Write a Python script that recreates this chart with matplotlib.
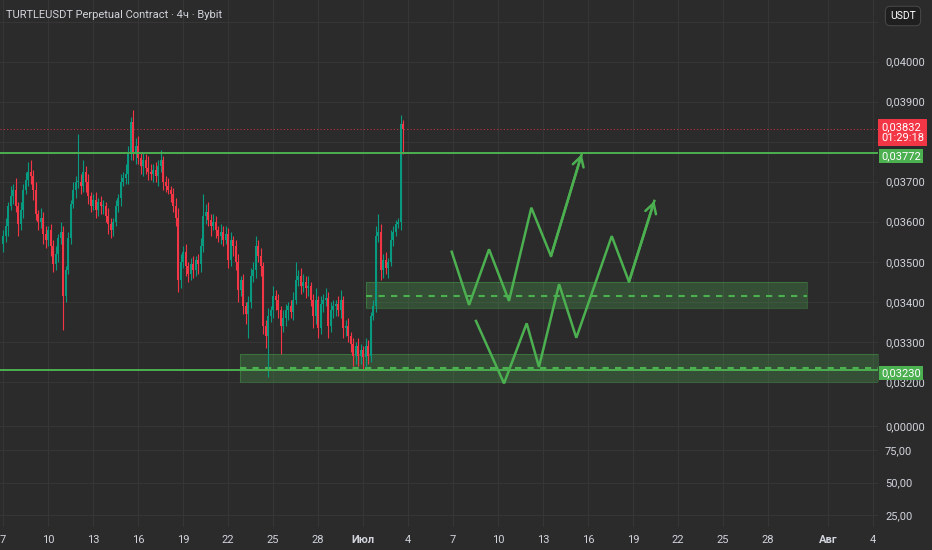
import matplotlib.pyplot as plt
import matplotlib.transforms as mtransforms
import numpy as np

plt.rcParams['font.family'] = ['Roboto', 'DejaVu Sans']

title = "TURTLEUSDT Perpetual Contract · 4ч · Bybit"
currency = "USDT"

# 4h candles, time in days from 1 July 00:00
start_day = -24
step = 1 / 6
first_open = 0.03545
closes = [
    0.03565, 0.03590, 0.03640, 0.03665, 0.03680, 0.03640, 0.03595, 0.03630, 0.03680, 0.03705,
    0.03725, 0.03715, 0.03680, 0.03620, 0.03600, 0.03610, 0.03570, 0.03555, 0.03580, 0.03540,
    0.03495, 0.03520, 0.03560, 0.03575, 0.03415, 0.03480, 0.03560, 0.03645, 0.03680, 0.03700,
    0.03700, 0.03690, 0.03725, 0.03700, 0.03665, 0.03640, 0.03655, 0.03630, 0.03650, 0.03640,
    0.03640, 0.03615, 0.03595, 0.03580, 0.03600, 0.03640, 0.03660, 0.03700, 0.03710, 0.03720,
    0.03770, 0.03850, 0.03775, 0.03790, 0.03760, 0.03740, 0.03755, 0.03735, 0.03725, 0.03720,
    0.03730, 0.03715, 0.03740, 0.03755, 0.03700, 0.03690, 0.03680, 0.03670, 0.03640, 0.03610,
    0.03455, 0.03500, 0.03525, 0.03490, 0.03470, 0.03495, 0.03480, 0.03505, 0.03495, 0.03540,
    0.03615, 0.03625, 0.03605, 0.03590, 0.03600, 0.03580, 0.03565, 0.03575, 0.03555, 0.03570,
    0.03505, 0.03555, 0.03540, 0.03500, 0.03430, 0.03455, 0.03390, 0.03370, 0.03400, 0.03465,
    0.03480, 0.03540, 0.03515, 0.03490, 0.03340, 0.03315, 0.03365, 0.03380, 0.03415, 0.03405,
    0.03380, 0.03340, 0.03360, 0.03380, 0.03390, 0.03375, 0.03405, 0.03455, 0.03465, 0.03440,
    0.03450, 0.03435, 0.03440, 0.03405, 0.03365, 0.03405, 0.03335, 0.03395, 0.03405, 0.03410,
    0.03340, 0.03380, 0.03390, 0.03395, 0.03380, 0.03405, 0.03335, 0.03340, 0.03315, 0.03295,
    0.03265, 0.03290, 0.03265, 0.03280, 0.03262, 0.03290, 0.03265, 0.03365, 0.03390, 0.03565,
    0.03575, 0.03480, 0.03505, 0.03485, 0.03500, 0.03555, 0.03575, 0.03595, 0.03600, 0.03845,
    0.03832,
]
# wick lengths in units of 0.00001
wick_up = [
    15, 20, 10, 25, 15, 30, 10, 20, 15, 20,
    25, 30, 15, 20, 10, 25, 15, 20, 10, 15,
    15, 20, 10, 25, 15, 10, 15, 10, 20, 15,
    120, 20, 30, 15, 20, 10, 15, 20, 10, 15,
    15, 10, 20, 15, 10, 15, 10, 20, 15, 25,
    20, 12, 30, 20, 25, 15, 20, 15, 30, 20,
    15, 20, 15, 25, 10, 15, 20, 10, 15, 20,
    25, 20, 15, 20, 10, 15, 20, 10, 15, 20,
    55, 20, 25, 15, 20, 15, 10, 20, 15, 20,
    15, 20, 10, 15, 20, 10, 15, 10, 15, 20,
    20, 25, 15, 20, 10, 15, 20, 10, 25, 15,
    15, 10, 20, 15, 10, 15, 20, 45, 15, 20,
    20, 15, 25, 10, 15, 30, 10, 20, 15, 25,
    15, 20, 15, 10, 20, 25, 10, 15, 20, 10,
    15, 10, 20, 15, 10, 20, 15, 10, 15, 25,
    45, 20, 15, 20, 10, 25, 15, 10, 10, 22,
    10,
]
wick_dn = [
    20, 15, 25, 10, 20, 15, 30, 15, 20, 10,
    15, 20, 25, 15, 20, 15, 25, 20, 15, 25,
    20, 15, 20, 15, 85, 15, 10, 15, 10, 20,
    15, 20, 15, 25, 20, 15, 10, 20, 15, 20,
    20, 15, 25, 20, 15, 10, 15, 20, 10, 15,
    25, 15, 20, 30, 15, 20, 25, 15, 20, 15,
    20, 15, 25, 15, 20, 15, 10, 20, 15, 20,
    30, 20, 15, 25, 20, 15, 20, 15, 25, 20,
    15, 20, 15, 25, 10, 20, 15, 20, 15, 10,
    20, 15, 25, 20, 30, 15, 20, 25, 60, 15,
    15, 20, 15, 25, 20, 30, 103, 15, 20, 25,
    20, 70, 15, 20, 25, 15, 20, 10, 15, 20,
    15, 25, 20, 15, 30, 20, 25, 15, 20, 15,
    30, 15, 20, 25, 15, 20, 25, 20, 15, 20,
    25, 20, 25, 20, 30, 25, 20, 15, 10, 15,
    15, 25, 20, 15, 25, 10, 15, 10, 10, 20,
    62,
]

resistance = 0.03772
support = 0.03230
last_price = 0.03832
countdown = "01:29:18"

# drawn zones: [start day, end day, low, mid, high]
zone_upper = [0.2, 29.6, 0.03384, 0.03414, 0.03449]
zone_lower = [-8.2, 40.0, 0.03199, 0.03234, 0.03269]

# projected zig-zag paths
path_a_days = [5.91, 7.07, 8.40, 9.73, 11.22, 12.53, 14.58]
path_a_prices = [0.03525, 0.03392, 0.03531, 0.03402, 0.03635, 0.03514, 0.03769]
path_b_days = [7.53, 9.40, 10.91, 11.73, 13.07, 14.22, 16.58, 17.73, 19.42]
path_b_prices = [0.03352, 0.03196, 0.03346, 0.03237, 0.03444, 0.03310, 0.03564, 0.03450, 0.03652]

# 0.038 label sits under the last-price tag, so only its grid line shows
price_ticks = [0.032, 0.033, 0.034, 0.035, 0.036, 0.037, 0.039, 0.040]
grid_only_ticks = [0.038, 0.041]
lower_ticks = [93.5, 75, 50, 25]
lower_labels = ["0,00000", "75,00", "50,00", "25,00"]
date_ticks = [-24, -21, -18, -15, -12, -9, -6, -3, 0, 3, 6, 9, 12, 15, 18, 21, 24, 27, 31, 34]
date_labels = ["7", "10", "13", "16", "19", "22", "25", "28", "Июл", "4",
               "7", "10", "13", "16", "19", "22", "25", "28", "Авг", "4"]

bg = "#2b2b2b"
grid = "#363636"
text_c = "#d1d4dc"
up_c = "#089981"
dn_c = "#f23645"
green = "#4caf50"

fig = plt.figure(figsize=(9.32, 5.5), dpi=100, facecolor=bg)
ax = fig.add_axes([0, 155 / 550, 878 / 932, 395 / 550], facecolor=bg)
axl = fig.add_axes([0, 23 / 550, 878 / 932, 132 / 550], facecolor=bg, sharex=ax)

c = np.array(closes)
o = np.array([first_open] + closes[:-1])
hi = np.maximum(o, c) + np.array(wick_up) * 1e-5
lo = np.minimum(o, c) - np.array(wick_dn) * 1e-5
t = start_day + np.arange(len(c)) * step
cols = np.where(c >= o, up_c, dn_c)

ax.vlines(t, lo, hi, colors=cols, linewidth=0.8, zorder=3)
ax.bar(t, np.maximum(np.abs(c - o), 0.00002), bottom=np.minimum(o, c), width=0.12,
       color=cols, linewidth=0, zorder=4)

# zones
for z in (zone_upper, zone_lower):
    ax.fill_between([z[0], z[1]], z[2], z[4], color=green, alpha=0.28, linewidth=0, zorder=2)
    ax.plot([z[0], z[1], z[1], z[0], z[0]], [z[2], z[2], z[4], z[4], z[2]],
            color=green, alpha=0.35, lw=0.8, zorder=2)
    ax.plot([z[0], z[1]], [z[3], z[3]], color=green, lw=1.5, ls=(0, (3, 3)), zorder=2)

ax.axhline(resistance, color=green, lw=1.4, zorder=5)
ax.axhline(support, color=green, lw=1.4, zorder=5)
ax.axhline(last_price, color=dn_c, lw=0.8, ls=(0, (1, 2)), alpha=0.7, zorder=1)

for xs, ys in ((path_a_days, path_a_prices), (path_b_days, path_b_prices)):
    ax.plot(xs, ys, color=green, lw=1.8, zorder=6, solid_joinstyle='miter')
    ax.annotate("", xy=(xs[-1], ys[-1]), xytext=(xs[-2], ys[-2]),
                arrowprops=dict(arrowstyle="->,head_length=0.7,head_width=0.4",
                                color=green, lw=1.8, shrinkA=0, shrinkB=0), zorder=6)

ax.set_xlim(-24.2, 34.33)
ax.set_ylim(0.03167, 0.04154)
axl.set_ylim(15.8, 117.3)

fmt = lambda v: f"{v:.5f}".replace(".", ",")
ax.set_yticks(price_ticks, [fmt(v) for v in price_ticks])
ax.set_yticks(grid_only_ticks, minor=True)
ax.yaxis.tick_right()
axl.set_yticks(lower_ticks, lower_labels)
axl.yaxis.tick_right()
ax.set_xticks(date_ticks)
axl.set_xticks(date_ticks, date_labels)
for lab in axl.get_xticklabels():
    if lab.get_text() in ("Июл", "Авг"):
        lab.set_fontweight("bold")

for a in (ax, axl):
    for s in a.spines.values():
        s.set_visible(False)
    a.grid(True, which="both", color=grid, lw=0.8)
    a.set_axisbelow(True)
    a.tick_params(axis="both", which="both", length=0, labelsize=8, labelcolor=text_c)
    a.tick_params(axis="y", pad=5)
ax.tick_params(axis="x", labelbottom=False)
axl.tick_params(axis="x", pad=6)

# price tags on the right scale
tr = mtransforms.blended_transform_factory(ax.transAxes, ax.transData)
tag_tr = mtransforms.offset_copy(tr, fig=fig, x=3, y=7, units="dots")
ax.text(1.0, last_price, fmt(last_price) + "\n" + countdown, transform=tag_tr, va="top",
        ha="left", fontsize=8, color="white", linespacing=1.15,
        bbox=dict(boxstyle="square,pad=0.25", fc=dn_c, ec="none"), zorder=10, clip_on=False)
for v in (resistance, support):
    ax.text(1.0, v, fmt(v), transform=mtransforms.offset_copy(tr, fig=fig, x=3, y=-3, units="dots"),
            va="center", ha="left", fontsize=8, color="white",
            bbox=dict(boxstyle="square,pad=0.2", fc=green, ec="none"), zorder=10, clip_on=False)

fig.text(6 / 932, 1 - 15 / 550, title, va="center", ha="left", fontsize=8, color=text_c)
fig.text(903 / 932, 1 - 16 / 550, currency, va="center", ha="center", fontsize=7.5, color="white",
         bbox=dict(boxstyle="round,pad=0.45", fc="#1f1f1f", ec="#454545", lw=0.8))

fig.savefig("out.png", dpi=100, facecolor=bg)
